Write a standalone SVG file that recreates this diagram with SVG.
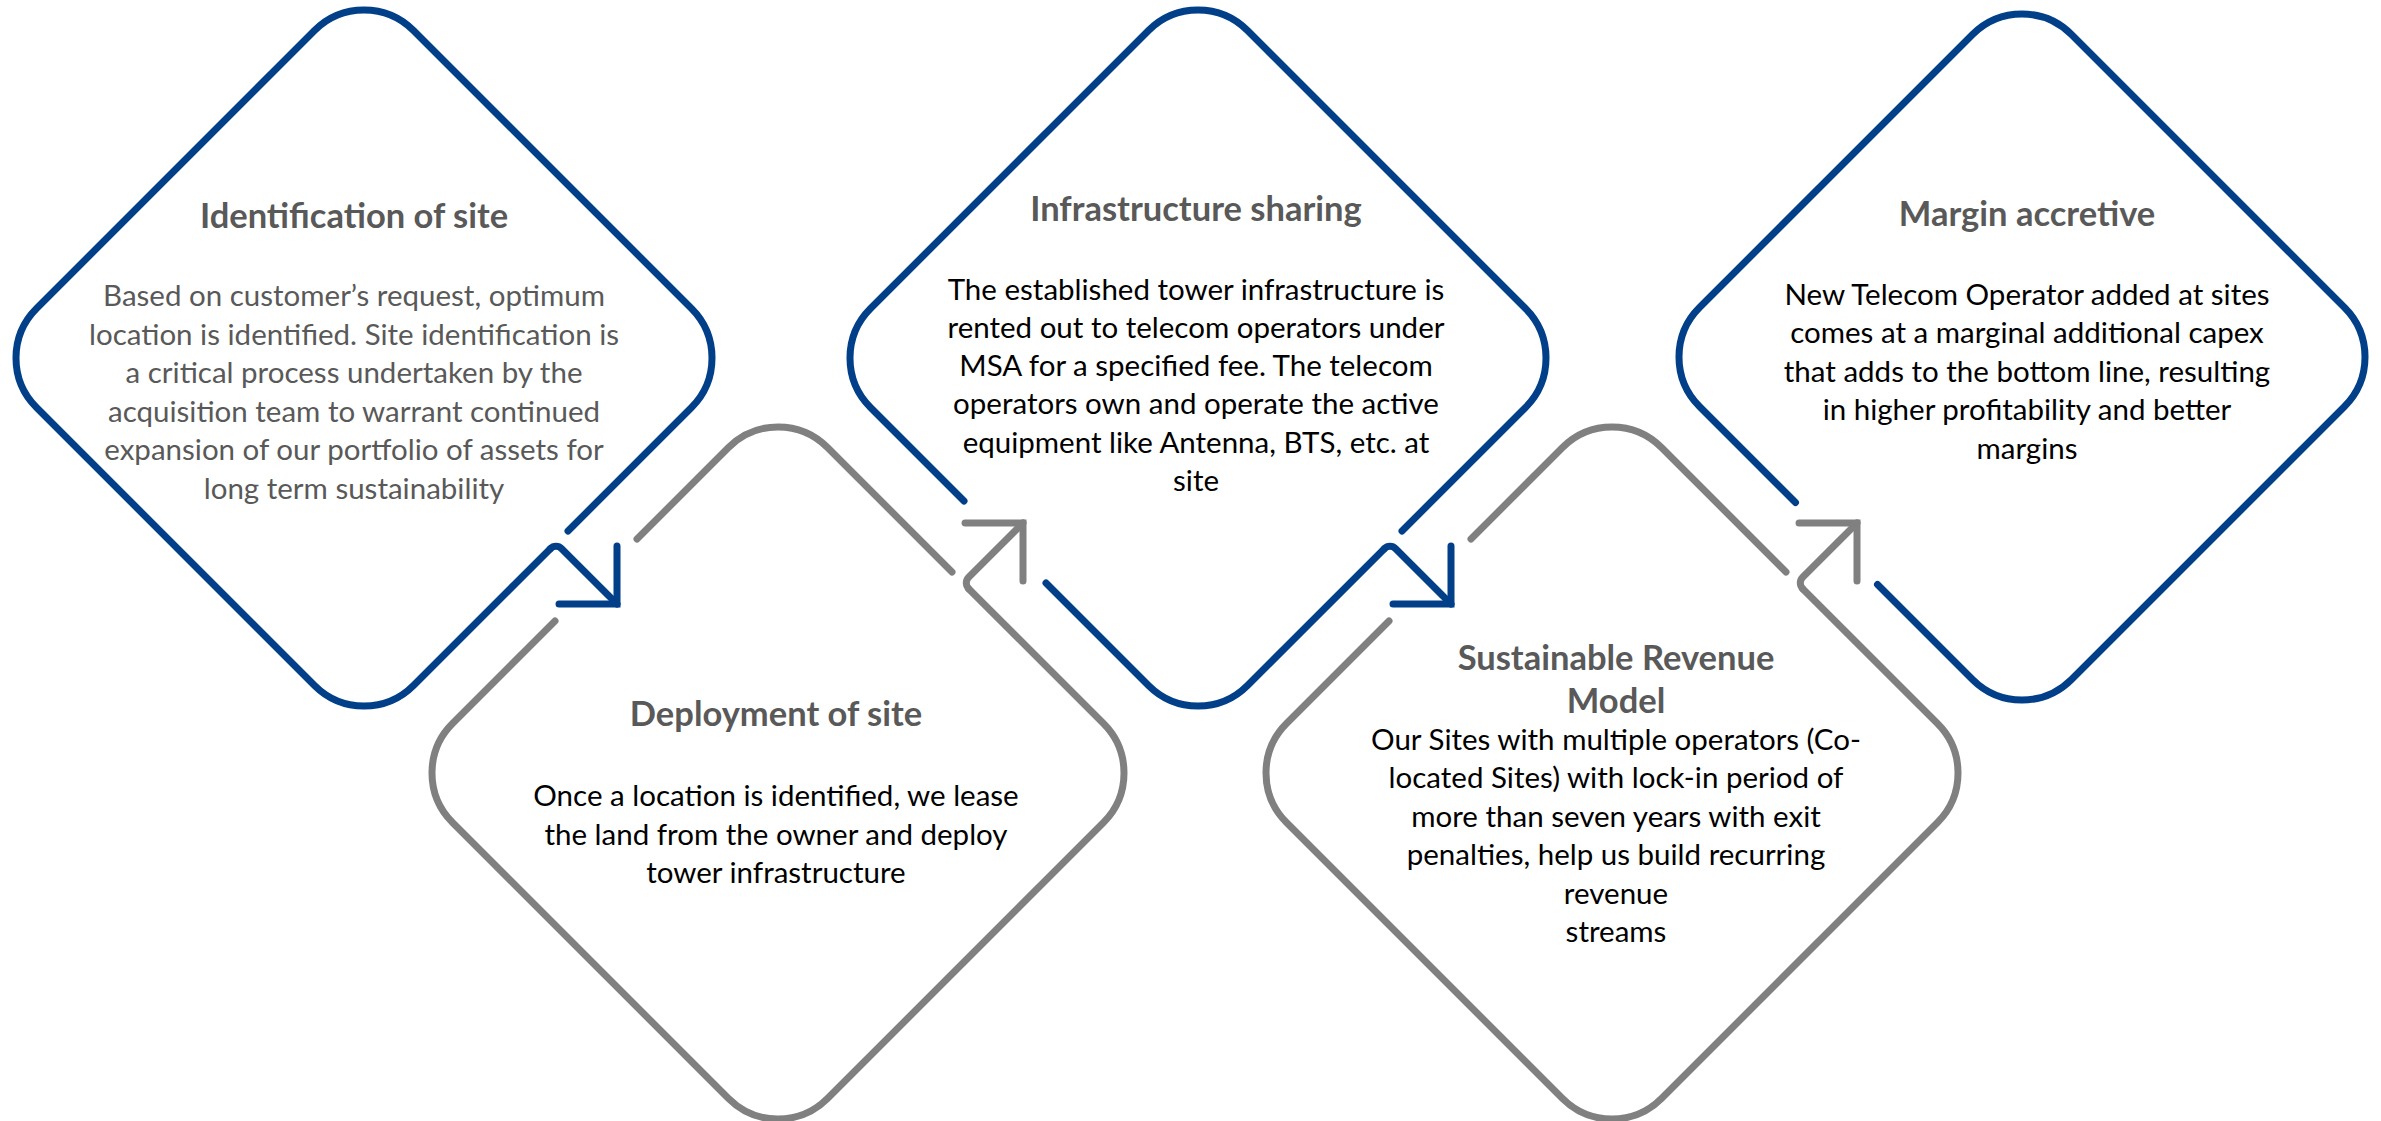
<svg xmlns="http://www.w3.org/2000/svg" width="2381" height="1121" viewBox="0 0 2381 1121">
  <style>
    .blue { fill: none; stroke: #013f88; stroke-width: 7; stroke-linecap: round; stroke-linejoin: round; }
    .grey { fill: none; stroke: #808080; stroke-width: 7; stroke-linecap: round; stroke-linejoin: round; }
    .title { font-family: Lato, "Liberation Sans", sans-serif; font-weight: bold; font-size: 34.5px; fill: #595959; text-anchor: middle; }
    .body { font-family: Lato, "Liberation Sans", sans-serif; font-size: 29.5px; fill: #000000; text-anchor: middle; }
    .body.muted { fill: #595959; }
  </style>
  <defs>
    <marker id="headBlue" markerUnits="userSpaceOnUse" orient="auto" overflow="visible" markerWidth="1" markerHeight="1" refX="0" refY="0">
      <path d="M -41 -41 L 0 0 L -41 41" fill="none" stroke="#013f88" stroke-width="7" stroke-linecap="round" stroke-linejoin="miter"/>
    </marker>
    <marker id="headGrey" markerUnits="userSpaceOnUse" orient="auto" overflow="visible" markerWidth="1" markerHeight="1" refX="0" refY="0">
      <path d="M -41 -41 L 0 0 L -41 41" fill="none" stroke="#808080" stroke-width="7" stroke-linecap="round" stroke-linejoin="miter"/>
    </marker>
  </defs>
  <rect x="0" y="0" width="2381" height="1121" fill="#ffffff"/>

  <g id="node-identification">
    <path class="blue" d="M 550.34 548.66 L 413.5 685.5 A 70 70 0 0 1 314.5 685.5 L 36.5 407.5 A 70 70 0 0 1 36.5 308.5 L 314.5 30.5 A 70 70 0 0 1 413.5 30.5 L 691.5 308.5 A 70 70 0 0 1 691.5 407.5 L 568 531"/>
    <text class="title" x="354" y="228">Identification of site</text>
    <text class="body muted" x="354" y="306">Based on customer’s request, optimum</text>
    <text class="body muted" x="354" y="344.5">location is identified. Site identification is</text>
    <text class="body muted" x="354" y="383">a critical process undertaken by the</text>
    <text class="body muted" x="354" y="421.5">acquisition team to warrant continued</text>
    <text class="body muted" x="354" y="460">expansion of our portfolio of assets for</text>
    <text class="body muted" x="354" y="498.5">long term sustainability</text>
  </g>

  <g id="node-deployment">
    <path class="grey" d="M 637 539 L 728.5 447.5 A 70 70 0 0 1 827.5 447.5 L 952 572 M 968.66 588.66 L 1103.5 723.5 A 70 70 0 0 1 1103.5 822.5 L 827.5 1098.5 A 70 70 0 0 1 728.5 1098.5 L 452.5 822.5 A 70 70 0 0 1 452.5 723.5 L 555 621"/>
    <text class="title" x="776" y="726">Deployment of site</text>
    <text class="body" x="776" y="806">Once a location is identified, we lease</text>
    <text class="body" x="776" y="844.5">the land from the owner and deploy</text>
    <text class="body" x="776" y="883">tower infrastructure</text>
  </g>

  <g id="node-sharing">
    <path class="blue" d="M 1384.34 548.66 L 1247.5 685.5 A 70 70 0 0 1 1148.5 685.5 L 1046 583 M 964 501 L 870.5 407.5 A 70 70 0 0 1 870.5 308.5 L 1148.5 30.5 A 70 70 0 0 1 1247.5 30.5 L 1525.5 308.5 A 70 70 0 0 1 1525.5 407.5 L 1402 531"/>
    <text class="title" x="1196" y="221">Infrastructure sharing</text>
    <text class="body" x="1196" y="299.5">The established tower infrastructure is</text>
    <text class="body" x="1196" y="337.8">rented out to telecom operators under</text>
    <text class="body" x="1196" y="376.1">MSA for a specified fee. The telecom</text>
    <text class="body" x="1196" y="414.4">operators own and operate the active</text>
    <text class="body" x="1196" y="452.7">equipment like Antenna, BTS, etc. at</text>
    <text class="body" x="1196" y="491">site</text>
  </g>

  <g id="node-revenue">
    <path class="grey" d="M 1471 539 L 1562.5 447.5 A 70 70 0 0 1 1661.5 447.5 L 1786 572 M 1802.66 588.66 L 1937.5 723.5 A 70 70 0 0 1 1937.5 822.5 L 1661.5 1098.5 A 70 70 0 0 1 1562.5 1098.5 L 1286.5 822.5 A 70 70 0 0 1 1286.5 723.5 L 1389 621"/>
    <text class="title" x="1616" y="669.5">Sustainable Revenue</text>
    <text class="title" x="1616" y="713">Model</text>
    <text class="body" x="1616" y="750">Our Sites with multiple operators (Co-</text>
    <text class="body" x="1616" y="788.4">located Sites) with lock-in period of</text>
    <text class="body" x="1616" y="826.8">more than seven years with exit</text>
    <text class="body" x="1616" y="865.2">penalties, help us build recurring</text>
    <text class="body" x="1616" y="903.6">revenue</text>
    <text class="body" x="1616" y="942">streams</text>
  </g>

  <g id="node-margin">
    <path class="blue" d="M 1795.5 502.5 L 1699.5 406.5 A 70 70 0 0 1 1699.5 307.5 L 1972.5 34.5 A 70 70 0 0 1 2071.5 34.5 L 2344.5 307.5 A 70 70 0 0 1 2344.5 406.5 L 2071.5 679.5 A 70 70 0 0 1 1972.5 679.5 L 1877.5 584.5"/>
    <text class="title" x="2027" y="226">Margin accretive</text>
    <text class="body" x="2027" y="304.5">New Telecom Operator added at sites</text>
    <text class="body" x="2027" y="343">comes at a marginal additional capex</text>
    <text class="body" x="2027" y="381.5">that adds to the bottom line, resulting</text>
    <text class="body" x="2027" y="420">in higher profitability and better</text>
    <text class="body" x="2027" y="458.5">margins</text>
  </g>

  <g id="connectors">
    <path class="blue" marker-end="url(#headBlue)" d="M 550.34 548.66 A 8 8 0 0 1 561.66 548.66 L 617 604"/>
    <path class="grey" marker-end="url(#headGrey)" d="M 968.66 588.66 A 8 8 0 0 1 968.66 577.34 L 1023 523"/>
    <path class="blue" marker-end="url(#headBlue)" d="M 1384.34 548.66 A 8 8 0 0 1 1395.66 548.66 L 1451 604"/>
    <path class="grey" marker-end="url(#headGrey)" d="M 1802.66 588.66 A 8 8 0 0 1 1802.66 577.34 L 1857 523"/>
  </g>
</svg>
